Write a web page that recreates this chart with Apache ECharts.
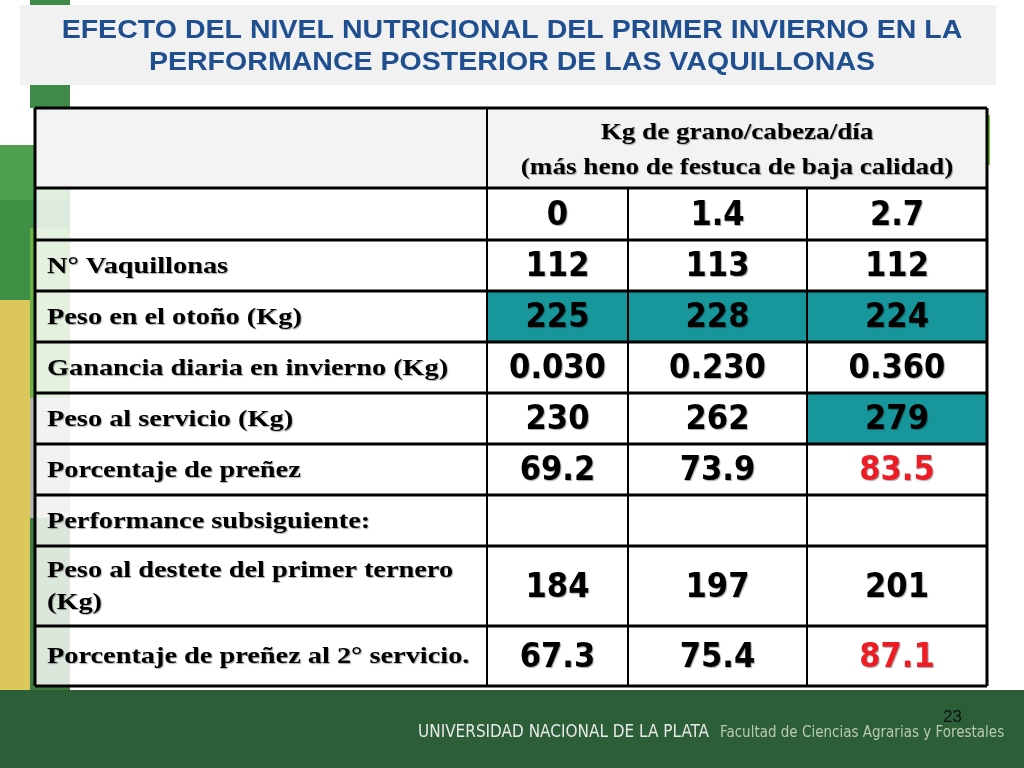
<!DOCTYPE html>
<html><head><meta charset="utf-8">
<script src="https://cdn.jsdelivr.net/npm/echarts@6/dist/echarts.min.js"></script>
<style>html,body{margin:0;padding:0;background:#fff}#chart{width:1024px;height:768px}</style>
</head><body><div id="chart"></div>
<script>
// datos de la tabla
var doses = ['0', '1.4', '2.7'];
var rowLabels = ['N° Vaquillonas', 'Peso en el otoño (Kg)', 'Ganancia diaria en invierno (Kg)',
  'Peso al servicio (Kg)', 'Porcentaje de preñez', 'Performance subsiguiente:',
  'Peso al destete del primer ternero\n(Kg)', 'Porcentaje de preñez al 2° servicio.'];
var col0 = ['112', '225', '0.030', '230', '69.2', '', '184', '67.3'];
var col1 = ['113', '228', '0.230', '262', '73.9', '', '197', '75.4'];
var col2 = ['112', '224', '0.360', '279', '83.5', '', '201', '87.1'];
var tealCells = [[1, 0], [1, 1], [1, 2], [3, 2]];
var redCells = [[4, 2], [7, 2]];

var chart = echarts.init(document.getElementById('chart'));
var colX = [35, 487, 628, 807, 987];
var rowY = [108, 188, 240, 291, 342, 393, 444, 495, 546, 626, 686];
var g = [];

// fondo
g.push({type: 'rect', shape: {x: 30, y: 0, width: 40, height: 108}, style: {fill: '#3f8a48'}});
g.push({type: 'rect', shape: {x: 0, y: 145, width: 70, height: 55}, style: {fill: '#4ea04c'}});
g.push({type: 'rect', shape: {x: 0, y: 200, width: 70, height: 100}, style: {fill: '#3f8f45'}});
g.push({type: 'rect', shape: {x: 30, y: 228, width: 40, height: 170}, style: {fill: '#6bb04a'}});
g.push({type: 'rect', shape: {x: 0, y: 300, width: 30, height: 390}, style: {fill: '#dcc75a'}});
g.push({type: 'rect', shape: {x: 30, y: 398, width: 40, height: 120}, style: {fill: '#b8b4ae'}});
g.push({type: 'rect', shape: {x: 30, y: 518, width: 40, height: 172}, style: {fill: '#3d7d40'}});
g.push({type: 'rect', shape: {x: 960, y: 115, width: 30, height: 50}, style: {fill: '#7bbf3a'}});
g.push({type: 'rect', shape: {x: 0, y: 690, width: 1024, height: 78}, style: {fill: '#2c5f37'}});
g.push({type: 'text', x: 418, y: 733, style: {text: 'UNIVERSIDAD NACIONAL DE LA PLATA', fill: '#e8e8e8', font: '17px "Liberation Sans Narrow", "DejaVu Sans Condensed", sans-serif', verticalAlign: 'middle'}});
g.push({type: 'text', x: 720, y: 733, style: {text: 'Facultad de Ciencias Agrarias y Forestales', fill: '#b9c9b4', font: '15px "Liberation Sans Narrow", "DejaVu Sans Condensed", sans-serif', verticalAlign: 'middle'}});
g.push({type: 'text', x: 962, y: 717, style: {text: '23', fill: '#111', font: '17px "Liberation Sans", sans-serif', align: 'right', verticalAlign: 'middle'}});

// titulo
g.push({type: 'rect', shape: {x: 20, y: 5, width: 976, height: 80}, style: {fill: '#f1f1f1'}});
g.push({type: 'text', x: 512, y: 47, scaleX: 1.02, scaleY: 0.9, originX: 0, originY: 0, style: {text: 'EFECTO DEL NIVEL NUTRICIONAL DEL PRIMER INVIERNO EN LA\nPERFORMANCE POSTERIOR DE LAS VAQUILLONAS', fill: '#1f4f8f', font: 'bold 28px "Liberation Sans", Arial, sans-serif', align: 'center', verticalAlign: 'middle', lineHeight: 35}});

var serif = 'bold 24px "Liberation Serif", "Times New Roman", serif';
var num = 'bold 34px "DejaVu Sans Condensed", "DejaVu Sans", Verdana, sans-serif';
var shadow = {textShadowColor: 'rgba(0,0,0,0.35)', textShadowOffsetX: 1, textShadowOffsetY: 1, textShadowBlur: 1};
function cell(x0, y0, x1, y1, fill) {
  g.push({type: 'rect', shape: {x: x0, y: y0, width: x1 - x0, height: y1 - y0}, style: {fill: fill, opacity: fill === '#fff' ? 0.82 : 1}});
}
function numText(x, y, t, color) {
  g.push({type: 'text', x: x, y: y, style: Object.assign({text: t, fill: color, font: num, align: 'center', verticalAlign: 'middle'}, shadow)});
}
// encabezado
cell(colX[0], rowY[0], colX[1], rowY[1], '#f3f3f3');
cell(colX[1], rowY[0], colX[4], rowY[1], '#f3f3f3');
g.push({type: 'text', x: (colX[1] + colX[4]) / 2, y: (rowY[0] + rowY[1]) / 2 + 2, scaleX: 1.13, originX: 0, originY: 0, style: Object.assign({text: 'Kg de grano/cabeza/día\n(más heno de festuca de baja calidad)', fill: '#000', font: serif, align: 'center', verticalAlign: 'middle', lineHeight: 35}, shadow)});
cell(colX[0], rowY[1], colX[1], rowY[2], '#fff');
doses.forEach(function (d, j) {
  cell(colX[j + 1], rowY[1], colX[j + 2], rowY[2], '#fff');
  numText((colX[j + 1] + colX[j + 2]) / 2, (rowY[1] + rowY[2]) / 2 + 2, d, '#000');
});
var cols = [col0, col1, col2];
rowLabels.forEach(function (lab, i) {
  var y0 = rowY[i + 2], y1 = rowY[i + 3];
  cell(colX[0], y0, colX[1], y1, '#fff');
  g.push({type: 'text', x: 47, y: (y0 + y1) / 2 + 1, scaleX: 1.18, originX: 0, originY: 0, style: Object.assign({text: lab, fill: '#000', font: serif, verticalAlign: 'middle', lineHeight: 32}, shadow)});
  cols.forEach(function (c, j) {
    var teal = tealCells.some(function (t) { return t[0] === i && t[1] === j; });
    var red = redCells.some(function (t) { return t[0] === i && t[1] === j; });
    cell(colX[j + 1], y0, colX[j + 2], y1, teal ? '#17979b' : '#fff');
    numText((colX[j + 1] + colX[j + 2]) / 2, (y0 + y1) / 2 + 2, c[i], red ? '#ee1c24' : '#000');
  });
});
// lineas
rowY.forEach(function (y) {
  g.push({type: 'line', shape: {x1: colX[0], y1: y, x2: colX[4], y2: y}, style: {stroke: '#000', lineWidth: 3}});
});
colX.forEach(function (x, i) {
  var top = (i === 2 || i === 3) ? rowY[1] : rowY[0];
  g.push({type: 'line', shape: {x1: x, y1: top, x2: x, y2: rowY[10]}, style: {stroke: '#000', lineWidth: (i === 0 || i === 4) ? 3 : 2}});
});

chart.setOption({backgroundColor: '#fff', graphic: {elements: g}});
</script></body></html>
